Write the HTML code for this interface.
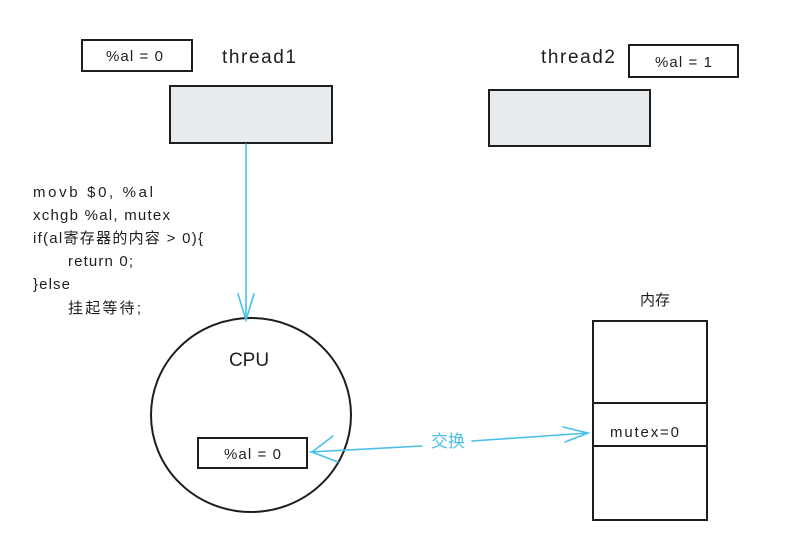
<!DOCTYPE html>
<html><head><meta charset="utf-8"><style>
html,body{margin:0;padding:0;background:#fff;}
svg{display:block;}
text{font-family:"Liberation Sans","Noto Sans CJK SC",sans-serif;fill:#1e1e1e;}
</style></head><body>
<svg width="807" height="534" viewBox="0 0 807 534" xmlns="http://www.w3.org/2000/svg">
<g fill="none" stroke="#1e1e1e" stroke-width="2">
<rect x="82" y="40" width="110" height="31"/>
<rect x="170" y="86" width="162" height="57" fill="#e8ebee"/>
<rect x="629" y="45" width="109" height="32"/>
<rect x="489" y="90" width="161" height="56" fill="#e8ebee"/>
<ellipse cx="251" cy="415" rx="100" ry="97"/>
<rect x="198" y="438" width="109" height="30"/>
<rect x="593" y="321" width="114" height="199"/>
<line x1="593" y1="403" x2="707" y2="403"/>
<line x1="593" y1="446" x2="707" y2="446"/>
</g>
<g fill="none" stroke="#4ac0e8" stroke-width="1.6" stroke-linecap="round">
<path d="M246 144 L246 320"/>
<path d="M238 294 L246 320 L254 294"/>
<path d="M310 452 L422 446"/>
<path d="M472 441 L588 433"/>
<path d="M333 436 L312 452 L338 462"/>
<path d="M563 427 L588 433 L565 442"/>
</g>
<g font-size="15">
<text x="106" y="61" textLength="57">%al = 0</text>
<text x="655" y="67" textLength="57">%al = 1</text>
<text x="224" y="459" textLength="57">%al = 0</text>
<text x="610" y="437" textLength="69">mutex=0</text>
</g>
<text x="222" y="63" font-size="19" textLength="74">thread1</text>
<text x="541" y="63" font-size="19" textLength="74">thread2</text>
<text x="249" y="366" font-size="19" text-anchor="middle">CPU</text>
<text x="655" y="305" font-size="15" text-anchor="middle">内存</text>
<text x="448" y="447" font-size="17" text-anchor="middle" style="fill:#4ac0e8">交换</text>
<g font-size="15">
<text x="33" y="197" textLength="120">movb $0, %al</text>
<text x="33" y="220" textLength="137">xchgb %al, mutex</text>
<text x="33" y="243" textLength="170">if(al寄存器的内容 &gt; 0){</text>
<text x="68" y="266" textLength="65">return 0;</text>
<text x="33" y="289" textLength="37">}else</text>
<text x="68" y="313" textLength="73">挂起等待;</text>
</g>
</svg>
</body></html>
